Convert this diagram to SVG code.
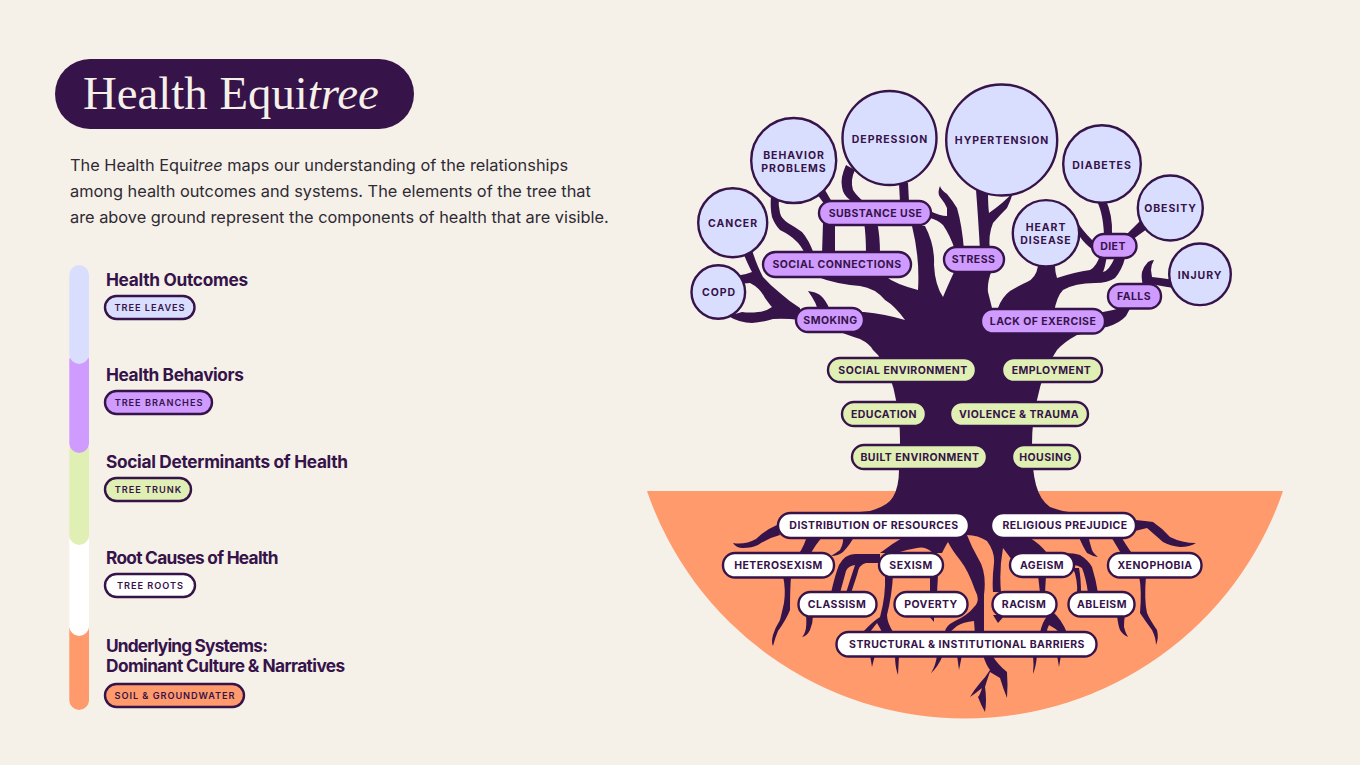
<svg xmlns="http://www.w3.org/2000/svg" width="1360" height="765" viewBox="0 0 1360 765">
<style>
.p{stroke:#361349;stroke-width:2.4}
.l{fill:#d9deff}.b{fill:#cf9bff}.g{fill:#e0efb4}.w{fill:#fff}.o{fill:#ff9a6c}
text{font-family:Inter,"Liberation Sans",sans-serif;fill:#361349}
.c{font-size:10.5px;font-weight:700;letter-spacing:.95px;text-anchor:middle}
.t{font-size:10.5px;font-weight:700;letter-spacing:.45px;text-anchor:middle}
.s{font-size:9.2px;font-weight:600;letter-spacing:.95px;text-anchor:middle}
.h{font-size:17.3px;font-weight:700;letter-spacing:-.35px}
.d{font-size:16.35px;fill:#2f2a33}
#connectors path{fill:#361349}
</style>
<rect width="1360" height="765" fill="#f5f1e9"/>
<g id="title"><rect x="55" y="59" width="359" height="70" rx="35" fill="#361349"/>
<text x="83" y="109" style="font-family:'Liberation Serif',serif;font-size:46.8px;fill:#f5f1e9">Health Equi<tspan font-style="italic">tree</tspan></text></g>
<g id="intro">
<text class="d" x="70" y="171">The Health Equi<tspan font-style="italic">tree</tspan> maps our understanding of the relationships</text>
<text class="d" x="70" y="197">among health outcomes and systems. The elements of the tree that</text>
<text class="d" x="70" y="223">are above ground represent the components of health that are visible.</text></g>
<g id="legend-bar">
<rect class="o" x="69.300" y="620" width="19.700" height="90" rx="9.850"/>
<rect class="w" x="69.300" y="530" width="19.700" height="106" rx="9.850"/>
<rect class="g" x="69.300" y="440" width="19.700" height="105" rx="9.850"/>
<rect class="b" x="69.300" y="350" width="19.700" height="103" rx="9.850"/>
<rect class="l" x="69.300" y="265" width="19.700" height="99" rx="9.850"/>
</g>
<g id="legend-outcomes"><text class="h" x="106" y="286" style="letter-spacing:-.3px">Health Outcomes</text><rect class="p l" x="105" y="296" width="89.500" height="23" rx="11.500"/><text class="s" x="150" y="311">TREE LEAVES</text></g>
<g id="legend-behaviors"><text class="h" x="106" y="381" style="letter-spacing:-.42px">Health Behaviors</text><rect class="p b" x="105" y="391" width="107" height="23" rx="11.500"/><text class="s" x="159" y="406">TREE BRANCHES</text></g>
<g id="legend-social"><text class="h" x="106" y="468" style="letter-spacing:-.32px">Social Determinants of Health</text><rect class="p g" x="105" y="478" width="86" height="23" rx="11.500"/><text class="s" x="148.500" y="493">TREE TRUNK</text></g>
<g id="legend-roots"><text class="h" x="106" y="564" style="letter-spacing:-.73px">Root Causes of Health</text><rect class="p w" x="105" y="574" width="90" height="23" rx="11.500"/><text class="s" x="150.500" y="589">TREE ROOTS</text></g>
<g id="legend-systems"><text class="h" x="106" y="652" style="letter-spacing:-.82px">Underlying Systems:</text><text class="h" x="106" y="672" style="letter-spacing:-.6px">Dominant Culture &amp; Narratives</text><rect class="p o" x="105" y="684" width="139" height="23" rx="11.500"/><text class="s" x="175" y="699">SOIL &amp; GROUNDWATER</text></g>

<path id="soil" class="o" d="M647 491H1283A336 336 0 0 1 647 491Z"/>

<g id="connectors">
<path id="trunk" d="M835 312L864 312Q885 314 905 320Q895 306 885 300Q875 288 860 286Q835 284 815 276L885 276Q895 284 918 290Q920 258 912 226L925 226Q935 245 934 265Q935 285 943 297Q948 285 955 270L992 270Q987 282 988 292L992 308L998 308Q1002 297 1010 291Q1020 285 1027 282Q1036 278 1038 266L1055 266Q1055 272 1057 278Q1075 272 1090 270Q1097 266 1100 255L1107 255Q1105 268 1103 272Q1109 271 1115 257L1125 258Q1122 270 1115 278Q1108 283 1095 283Q1075 283 1063 290Q1057 296 1054 312L1090 332L1077 335Q1064 342 1057 350Q1043 370 1037 400Q1032 420 1032 445Q1032 470 1036 485Q1040 500 1050 507Q1060 511 1075 513L1100 525L1075 532L1030 538Q1040 544 1047 553L1047 560L1012 560L1003 548Q999 570 1001 592L993 592Q992 580 994 563Q995 552 987 541Q978 535 967 535Q972 548 978 558Q987 572 984 595L984 635L975 635L974 621Q963 622 957 626L950 632L945 632Q945 626 955 621Q968 615 974 607Q981 601 975 590Q968 570 960 560Q952 550 948 542Q946 545 942 553L933 553Q925 546 917 548Q905 550 896 553L880 553Q893 543 907 535L850 532L830 515L870 511Q888 506 893 497Q899 487 899 470Q900 450 900 440Q900 420 896 400Q892 375 878 355Q874 351 873 350Q870 344 860 339Q850 336 835 330Z"/>
<path d="M742 250Q748 265 752 272L746 274Q735 276 730 278L734 285Q745 283 750 283Q760 288 765 298Q770 305 772 307Q765 312 758 312Q750 313 742 312L728 316Q740 323 752 323Q764 322 773 319Q785 318 800 320L800 308Q790 302 780 293Q770 285 763 277Q757 266 752 250Z"/>
<path d="M808 291Q816 292 820 295Q826 300 830 310L818 310Q816 303 812 297Z"/>
<path d="M771 196Q770 208 772 217Q775 225 780 230Q790 235 795 240Q801 245 805 254L814 254Q809 240 802 232Q795 227 788 223Q781 218 780 213Q778 205 779 196Z"/>
<path d="M823 222L822 254L835 254L835 222Z"/>
<path d="M864 222Q866 235 866 254L880 254Q880 235 877 222Z"/>
<path d="M817 194L825 205L832 202L825 190Z"/>
<path d="M846 165Q840 178 842 187Q843 195 850 200L864 202Q856 195 853 190Q850 180 855 170Z"/>
<path d="M899 183L900 202L909 202L908 183Z"/>
<path d="M940 186Q937 193 940 197Q945 203 947 208L947 216Q940 216 930 211L930 218Q938 220 943 225Q950 235 955 250L964 250Q962 225 957 208Q952 200 947 194Q941 190 940 186Z"/>
<path d="M976 190Q978 215 980 250L990 250Q988 235 993 223Q1000 215 1007 208Q1010 202 1013 193L1002 203Q996 208 989 213Q988 205 988 192Z"/>
<path d="M1076 220Q1082 230 1092 240L1092 249Q1086 245 1080 237Z"/>
<path d="M1095 198Q1103 210 1104 235L1112 235Q1113 215 1105 198Z"/>
<path d="M1125 236Q1133 228 1140 221L1147 229Q1140 234 1132 240Z"/>
<path d="M1098 313L1113 310L1132 305L1126 316Q1120 323 1107 327L1098 328Z"/>
<path d="M1143 286Q1141 277 1142 272Q1144 266 1148 262Q1151 260 1154 260Q1151 265 1151 270L1152 277Q1162 278 1174 280L1174 288Q1160 286 1152 284L1152 286Z"/>
<path d="M777 525Q765 530 756 539Q745 545 733 543Q736 548 743 548Q752 548 758 545Q768 538 780 535Z"/>
<path d="M807 535Q805 545 798 555L810 555Q815 545 824 535Z"/>
<path d="M843 535Q844 543 840 550Q836 553 831 556Q838 556 843 552Q850 545 855 535Z"/>
<path d="M783 576Q786 590 784 603Q782 612 780 620Q775 628 773 635Q771 642 773 646Q775 638 778 631Q786 620 790 610Q790 590 791 576Z"/>
<path d="M806 615Q807 627 805 632Q804 635 802 637Q807 636 810 630Q813 623 813 615Z"/>
<path d="M831 593Q835 575 839 565Q845 554 855 554L880 554L880 563L866 563Q859 564 857 575L851 593L846 593Q850 580 855 565Q848 566 846 571L840 593Z"/>
<path d="M885 575Q886 595 880 617Q872 622 863 632L870 632Q873 628 877 623Q880 628 882 632L893 632Q887 622 887 615Q892 595 893 575Z"/>
<path d="M930 575L930 593L937 593L938 575Z"/>
<path d="M928 615L934 622L934 615Z"/>
<path d="M1038 575L1040 593L1045 593L1046 575Z"/>
<path d="M993 615L998 623L1005 615Z"/>
<path d="M1048 615Q1042 622 1040 633L1047 633Q1047 628 1049 625Q1055 628 1060 633L1067 633Q1062 620 1053 612Z"/>
<path d="M1063 553Q1075 553 1080 555Q1088 560 1092 567Q1096 580 1098 593L1088 593Q1086 578 1082 568Q1078 565 1073 565Z"/>
<path d="M1073 568Q1078 580 1077 593L1081 593Q1081 578 1079 568Z"/>
<path d="M1117 615Q1118 625 1120 630Q1123 635 1128 637Q1125 632 1124 627Q1124 620 1125 615Z"/>
<path d="M1139 576Q1142 590 1140 613Q1146 622 1152 630Q1156 638 1156 645Q1159 638 1157 630Q1150 620 1147 613Q1144 600 1146 576Z"/>
<path d="M1135 520Q1146 521 1153 522Q1162 528 1170 537Q1182 543 1196 543Q1190 547 1180 547Q1170 546 1163 542Q1155 535 1147 528L1135 531Z"/>
<path d="M1078 535Q1083 547 1087 553Q1092 556 1098 557Q1093 553 1092 550Q1090 544 1088 535Z"/>
<path d="M1110 535Q1116 545 1122 555L1133 555Q1126 545 1120 535Z"/>
<path d="M870 655L872 667L875 655Z"/>
<path d="M895 655Q895 667 898 675L899 655Z"/>
<path d="M937 655Q936 665 931 673Q938 667 943 655Z"/>
<path d="M957 655L959 670L962 655Z"/>
<path d="M1033 655Q1034 665 1033 674Q1036 667 1037 655Z"/>
<path d="M1057 655L1059 667L1061 655Z"/>
<path d="M983 655Q986 665 990 670Q985 678 980 683Q974 690 970 697Q976 693 982 688Q980 695 978 697Q981 705 985 712Q987 700 985 687Q988 677 990 672L1000 678Q1003 688 1007 698Q1008 685 1007 672Q998 665 992 655Z"/>
</g>

<g id="leaf-behavior"><circle class="p l" cx="793.700" cy="160.500" r="42.500"/><text class="c" x="794" y="159">BEHAVIOR</text><text class="c" x="794" y="171.500">PROBLEMS</text></g>
<g id="leaf-depression"><circle class="p l" cx="889.500" cy="138" r="47"/><text class="c" x="890" y="142.500">DEPRESSION</text></g>
<g id="leaf-hypertension"><circle class="p l" cx="1001.700" cy="140" r="55.500"/><text class="c" x="1002" y="144">HYPERTENSION</text></g>
<g id="leaf-cancer"><circle class="p l" cx="732.700" cy="222.700" r="34.500"/><text class="c" x="733" y="227">CANCER</text></g>
<g id="leaf-copd"><circle class="p l" cx="718.300" cy="292" r="26.800"/><text class="c" x="719" y="296">COPD</text></g>
<g id="leaf-diabetes"><circle class="p l" cx="1102" cy="164" r="38.800"/><text class="c" x="1102" y="168.500">DIABETES</text></g>
<g id="leaf-obesity"><circle class="p l" cx="1170.300" cy="208" r="32.500"/><text class="c" x="1170.500" y="212">OBESITY</text></g>
<g id="leaf-heart"><circle class="p l" cx="1046" cy="233.300" r="33.200"/><text class="c" x="1046" y="231">HEART</text><text class="c" x="1046" y="244">DISEASE</text></g>
<g id="leaf-injury"><circle class="p l" cx="1200" cy="274.300" r="30.800"/><text class="c" x="1200" y="279">INJURY</text></g>

<g id="b-substance"><rect class="p b" x="819" y="201" width="112" height="24" rx="12"/><text class="t" x="875.500" y="216.500">SUBSTANCE USE</text></g>
<g id="b-social"><rect class="p b" x="763" y="252" width="148" height="25" rx="12.500"/><text class="t" x="837" y="268">SOCIAL CONNECTIONS</text></g>
<g id="b-smoking"><rect class="p b" x="796" y="308" width="68" height="24" rx="12"/><text class="t" x="830.500" y="323.500">SMOKING</text></g>
<g id="b-stress"><rect class="p b" x="944" y="247" width="60" height="25" rx="12.500"/><text class="t" x="973.500" y="263">STRESS</text></g>
<g id="b-diet"><rect class="p b" x="1092" y="234" width="44.500" height="24" rx="12"/><text class="t" x="1113" y="249.500">DIET</text></g>
<g id="b-falls"><rect class="p b" x="1108" y="284" width="53" height="24.500" rx="12"/><text class="t" x="1134" y="300">FALLS</text></g>
<g id="b-exercise"><rect class="p b" x="981" y="309" width="124" height="24.500" rx="12"/><text class="t" x="1043" y="325">LACK OF EXERCISE</text></g>

<g id="s-social"><rect class="p g" x="828" y="358" width="148" height="24" rx="12"/><text class="t" x="903" y="374">SOCIAL ENVIRONMENT</text></g>
<g id="s-employment"><rect class="p g" x="1002" y="358" width="100" height="24" rx="12"/><text class="t" x="1051.500" y="374">EMPLOYMENT</text></g>
<g id="s-education"><rect class="p g" x="842" y="402" width="84" height="24" rx="12"/><text class="t" x="884" y="418">EDUCATION</text></g>
<g id="s-violence"><rect class="p g" x="950" y="402" width="138" height="24" rx="12"/><text class="t" x="1019" y="418">VIOLENCE &amp; TRAUMA</text></g>
<g id="s-built"><rect class="p g" x="852" y="445" width="135" height="24" rx="12"/><text class="t" x="920" y="461">BUILT ENVIRONMENT</text></g>
<g id="s-housing"><rect class="p g" x="1012" y="445" width="68" height="24" rx="12"/><text class="t" x="1045.500" y="461">HOUSING</text></g>

<g id="r-distribution"><rect class="p w" x="778" y="513" width="191" height="25" rx="12.500"/><text class="t" x="874" y="529">DISTRIBUTION OF RESOURCES</text></g>
<g id="r-religious"><rect class="p w" x="991" y="513" width="145" height="25" rx="12.500"/><text class="t" x="1065" y="529">RELIGIOUS PREJUDICE</text></g>
<g id="r-hetero"><rect class="p w" x="723" y="553" width="111" height="24.500" rx="12"/><text class="t" x="778.500" y="569">HETEROSEXISM</text></g>
<g id="r-sexism"><rect class="p w" x="879" y="553" width="64" height="24" rx="12"/><text class="t" x="911" y="569">SEXISM</text></g>
<g id="r-ageism"><rect class="p w" x="1010" y="553" width="64" height="24" rx="12"/><text class="t" x="1042" y="569">AGEISM</text></g>
<g id="r-xeno"><rect class="p w" x="1108" y="553" width="93.500" height="24.500" rx="12"/><text class="t" x="1155" y="569">XENOPHOBIA</text></g>
<g id="r-classism"><rect class="p w" x="798.500" y="592" width="78" height="24.500" rx="12"/><text class="t" x="837" y="608">CLASSISM</text></g>
<g id="r-poverty"><rect class="p w" x="894.500" y="592" width="73" height="24.500" rx="12"/><text class="t" x="931" y="608">POVERTY</text></g>
<g id="r-racism"><rect class="p w" x="992.500" y="592" width="64" height="24.500" rx="12"/><text class="t" x="1024" y="608">RACISM</text></g>
<g id="r-ableism"><rect class="p w" x="1068.500" y="592" width="66" height="24.500" rx="12"/><text class="t" x="1102" y="608">ABLEISM</text></g>
<g id="r-structural"><rect class="p w" x="836.500" y="632" width="260" height="24.500" rx="12"/><text class="t" x="967" y="648">STRUCTURAL &amp; INSTITUTIONAL BARRIERS</text></g>
</svg>
